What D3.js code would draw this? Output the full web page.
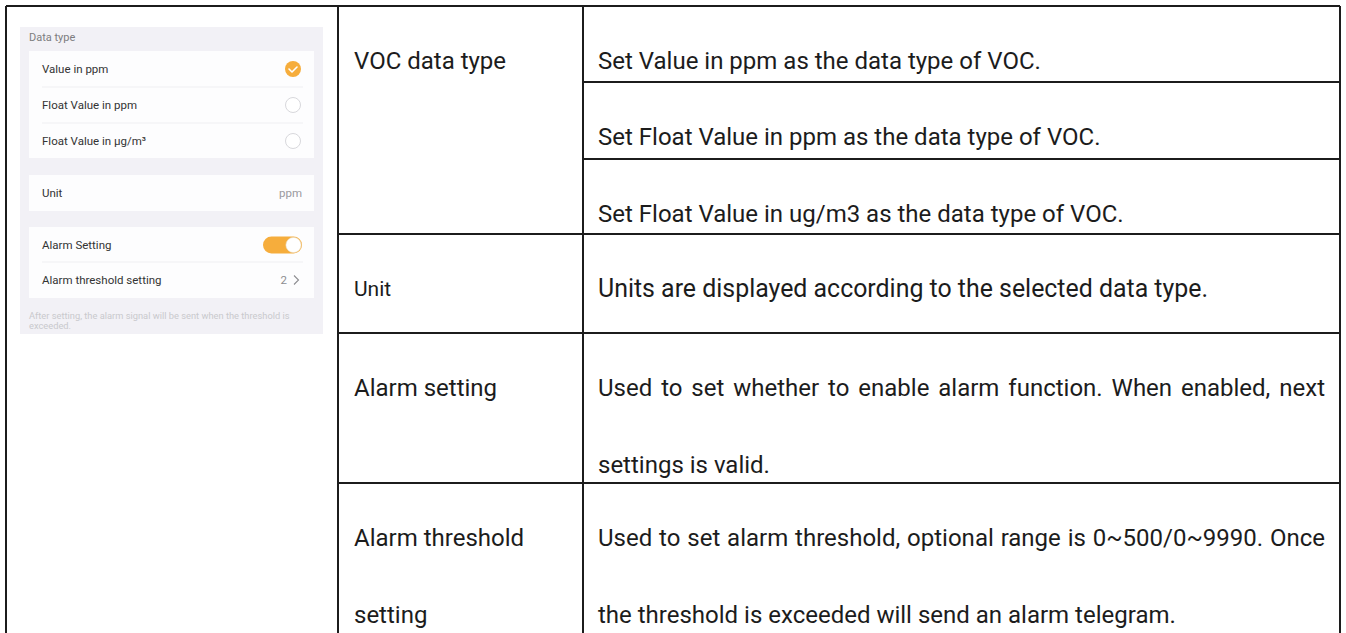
<!DOCTYPE html>
<html>
<head>
<meta charset="utf-8">
<script src="https://cdn.jsdelivr.net/npm/d3@7/dist/d3.min.js"></script>
<style>
  html, body { margin: 0; padding: 0; background: #ffffff; }
  svg { display: block; font-family: Roboto, "Noto Sans", sans-serif; }
</style>
</head>
<body>
<svg id="chart" width="1346" height="633"></svg>
<script>
// ---------- data ----------
const rowLabels = [["VOC data type"], ["Unit"], ["Alarm setting"], ["Alarm threshold", "setting"]];
const dataTypeDescriptions = [
  "Set Value in ppm as the data type of VOC.",
  "Set Float Value in ppm as the data type of VOC.",
  "Set Float Value in ug/m3 as the data type of VOC."
];
const unitDescription = ["Units are displayed according to the selected data type."];
const alarmDescription = ["Used to set whether to enable alarm function. When enabled, next", "settings is valid."];
const thresholdDescription = ["Used to set alarm threshold, optional range is 0~500/0~9990. Once", "the threshold is exceeded will send an alarm telegram."];

const panelTitle = "Data type";
const dataTypeOptions = ["Value in ppm", "Float Value in ppm", "Float Value in µg/m³"];
const selectedOption = 0;
const unitLabel = "Unit";
const unitValue = "ppm";
const alarmLabel = "Alarm Setting";
const alarmEnabled = true;
const thresholdLabel = "Alarm threshold setting";
const thresholdValue = "2";
const footnoteLines = ["After setting, the alarm signal will be sent when the threshold is", "exceeded."];

// ---------- layout ----------
const svg = d3.select("#chart");
const X0 = 6, X1 = 338, X2 = 583, X3 = 1340;
const Y_TOP = 6, Y_BOT = 640;
const rowBounds = [6, 234, 333, 483, 640];        // main rows
const subBounds = [6, 82, 159, 234];              // sub-rows of first row
const LINE = 77, FIRST = 54;                      // line pitch, first text line offset
const ink = "#1c1c1c";

const yRow = d3.scaleOrdinal().domain(d3.range(rowLabels.length)).range(rowBounds.slice(0, -1));

// ---------- grid lines ----------
const g = svg.append("g").attr("stroke", ink).attr("stroke-width", 1.2).attr("shape-rendering", "crispEdges");
g.append("line").attr("x1", X0).attr("x2", X3).attr("y1", Y_TOP).attr("y2", Y_TOP);
[X0, X1, X2, X3].forEach(x => g.append("line").attr("x1", x).attr("x2", x).attr("y1", Y_TOP).attr("y2", Y_BOT));
rowBounds.slice(1, -1).forEach(y => g.append("line").attr("x1", X1).attr("x2", X3).attr("y1", y).attr("y2", y));
subBounds.slice(1, -1).forEach(y => g.append("line").attr("x1", X2).attr("x2", X3).attr("y1", y).attr("y2", y));

// ---------- table text ----------
const T = svg.append("g").attr("fill", ink).style("font-size", "24px");

function putLines(lines, x, yTop, size, justifyTo) {
  lines.forEach((s, i) => {
    const t = T.append("text")
      .attr("x", x)
      .attr("y", yTop + FIRST + i * LINE)
      .attr("dy", "0.36em")
      .style("font-size", size + "px")
      .text(s);
    if (justifyTo && i < lines.length - 1) {
      const w = t.node().getComputedTextLength();
      const n = (s.match(/ /g) || []).length;
      if (n > 0) t.style("word-spacing", ((justifyTo - x - w) / n) + "px");
    }
  });
}

rowLabels.forEach((lines, i) => putLines(lines, 354, yRow(i), i === 1 ? 21 : 24));
dataTypeDescriptions.forEach((s, i) => putLines([s], 598, subBounds[i], 24));
putLines(unitDescription, 598, rowBounds[1], 24.9);
putLines(alarmDescription, 598, rowBounds[2], 24, 1325);
putLines(thresholdDescription, 598, rowBounds[3], 24, 1325);

// ---------- left panel (app screenshot) ----------
const orange = "#f6ad3c";
const P = svg.append("g");
P.append("rect").attr("x", 20).attr("y", 27).attr("width", 303).attr("height", 307).attr("fill", "#f2f1f6");
P.append("text").attr("x", 29).attr("y", 37).attr("dy", "0.36em").attr("fill", "#7d7d80").style("font-size", "11px").text(panelTitle);

// card 1
P.append("rect").attr("x", 29).attr("y", 51).attr("width", 285).attr("height", 107).attr("fill", "#fdfdfe");
const optY = d3.scalePoint().domain(d3.range(dataTypeOptions.length)).range([69, 141]);
dataTypeOptions.forEach((s, i) => {
  P.append("text").attr("x", 42).attr("y", optY(i)).attr("dy", "0.36em").attr("fill", "#333").style("font-size", "11.5px").text(s);
  if (i > 0) P.append("line").attr("x1", 42).attr("x2", 303).attr("y1", optY(i) - 18).attr("y2", optY(i) - 18).attr("stroke", "#efeff2");
  if (i === selectedOption) {
    P.append("circle").attr("cx", 293).attr("cy", optY(i)).attr("r", 8).attr("fill", orange);
    P.append("path").attr("d", `M${289},${optY(i)} l3,3 l5,-5`).attr("fill", "none").attr("stroke", "#fff").attr("stroke-width", 1.6).attr("stroke-linecap", "round").attr("stroke-linejoin", "round");
  } else {
    P.append("circle").attr("cx", 293).attr("cy", optY(i)).attr("r", 7.5).attr("fill", "#fff").attr("stroke", "#d8d8dc").attr("stroke-width", 1);
  }
});

// card 2
P.append("rect").attr("x", 29).attr("y", 175).attr("width", 285).attr("height", 36).attr("fill", "#fdfdfe");
P.append("text").attr("x", 42).attr("y", 193).attr("dy", "0.36em").attr("fill", "#333").style("font-size", "11.5px").text(unitLabel);
P.append("text").attr("x", 302).attr("y", 193).attr("dy", "0.36em").attr("text-anchor", "end").attr("fill", "#9a9a9e").style("font-size", "11.5px").text(unitValue);

// card 3
P.append("rect").attr("x", 29).attr("y", 227).attr("width", 285).attr("height", 71).attr("fill", "#fdfdfe");
P.append("text").attr("x", 42).attr("y", 245).attr("dy", "0.36em").attr("fill", "#333").style("font-size", "11.5px").text(alarmLabel);
P.append("line").attr("x1", 42).attr("x2", 303).attr("y1", 262).attr("y2", 262).attr("stroke", "#efeff2");
P.append("text").attr("x", 42).attr("y", 280).attr("dy", "0.36em").attr("fill", "#333").style("font-size", "11.5px").text(thresholdLabel);
P.append("text").attr("x", 287).attr("y", 280).attr("dy", "0.36em").attr("text-anchor", "end").attr("fill", "#8d8d91").style("font-size", "11.5px").text(thresholdValue);
P.append("path").attr("d", "M294,275.5 l4.5,4.5 l-4.5,4.5").attr("fill", "none").attr("stroke", "#8d8d91").attr("stroke-width", 1.1);
if (alarmEnabled) {
  P.append("rect").attr("x", 263).attr("y", 236.5).attr("width", 39).attr("height", 17).attr("rx", 8.5).attr("fill", orange);
  P.append("circle").attr("cx", 293.5).attr("cy", 245).attr("r", 7.6).attr("fill", "#fff").attr("stroke", "#e8e0d0").attr("stroke-width", 0.6);
}

// footnote
footnoteLines.forEach((s, i) => {
  P.append("text").attr("x", 29).attr("y", 316 + i * 9.5).attr("dy", "0.36em").attr("fill", "#c9c9cd").style("font-size", "9.3px").text(s);
});
</script>
</body>
</html>
